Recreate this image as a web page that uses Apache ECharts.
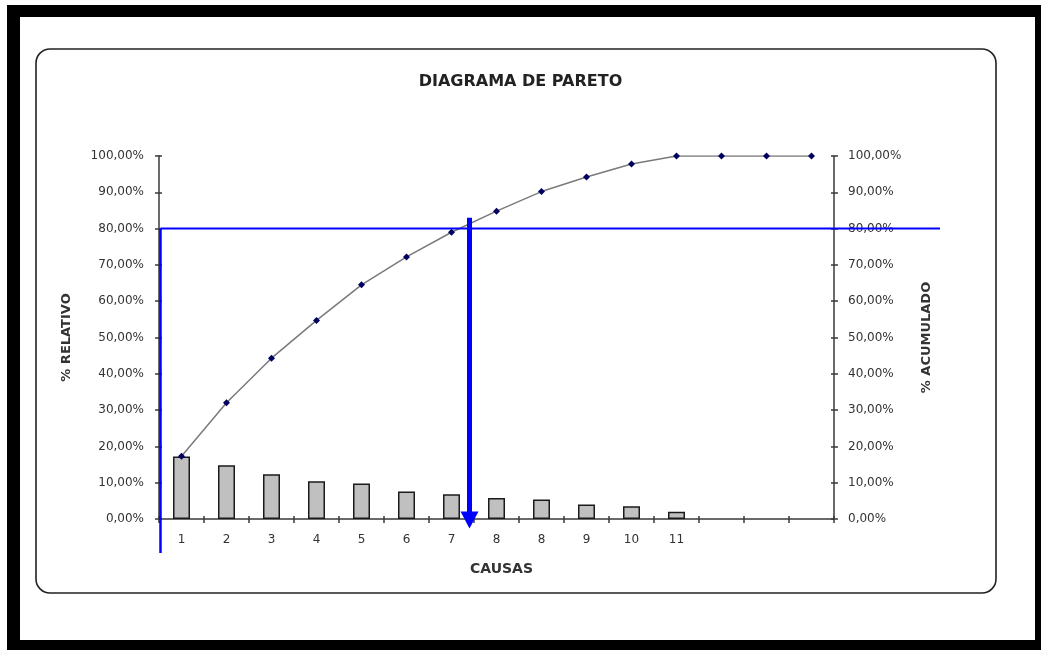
<!DOCTYPE html>
<html>
<head>
<meta charset="utf-8">
<script src="https://cdn.jsdelivr.net/npm/echarts@6/dist/echarts.min.js"></script>
<style>
  html, body { margin: 0; padding: 0; background: #ffffff; }
  #chart { width: 1041px; height: 650px; }
</style>
</head>
<body>
<div id="chart"></div>
<script>
// Causes along the x axis (the last three slots carry no label)
const causas = ['1', '2', '3', '4', '5', '6', '7', '8', '8', '9', '10', '11', '', '', ''];
// Relative share of each cause (%)
const relativo = [17.2, 14.8, 12.3, 10.4, 9.8, 7.6, 6.8, 5.8, 5.4, 4.0, 3.5, 2.0];
// Cumulative share (%)
const acumulado = [17.3, 32.0, 44.3, 54.7, 64.5, 72.2, 79.0, 84.8, 90.2, 94.2, 97.8, 100, 100, 100, 100];
// Percent axis ticks
const yMin = 0, yMax = 100, yStep = 10;
// 80/20 cut-off annotation
const limite = 80;          // horizontal cut-off level (%)
const corteCausa = 6.4;     // position of the cut-off arrow along the causes
const corteTope = 83;       // top of the cut-off arrow (%)

const GRID = { left: 159, right: 207, top: 156, bottom: 131 };
const FONT = "'DejaVu Sans', Verdana, sans-serif";
const AXIS_COLOR = '#3a3a3a';
const TEXT_COLOR = '#333333';
const BLUE = '#0000ff';

const pct = v => v.toFixed(2).replace('.', ',') + '%';

const chart = echarts.init(document.getElementById('chart'), null, { renderer: 'canvas' });

const tickStyle = { color: AXIS_COLOR, width: 1.5 };

const percentAxis = (position, name, labelMargin) => ({
  type: 'value',
  position: position,
  min: yMin, max: yMax, interval: yStep,
  name: name,
  nameLocation: 'middle',
  nameGap: 86,
  nameRotate: 90,
  nameTextStyle: { fontFamily: FONT, fontSize: 13, fontWeight: 'bold', color: TEXT_COLOR },
  axisLine: { show: true, lineStyle: { color: AXIS_COLOR, width: 1.5 } },
  axisTick: { show: true, inside: false, length: 4, lineStyle: tickStyle },
  axisLabel: { formatter: pct, fontFamily: FONT, fontSize: 12, color: TEXT_COLOR, margin: labelMargin },
  splitLine: { show: false }
});

// Companion axis that only draws the inner half of each tick, so ticks cross the axis line
const innerTicks = position => ({
  type: 'value',
  position: position,
  min: yMin, max: yMax, interval: yStep,
  axisLine: { show: false },
  axisTick: { show: true, inside: true, length: 3, lineStyle: tickStyle },
  axisLabel: { show: false },
  splitLine: { show: false }
});

chart.setOption({
  animation: false,
  backgroundColor: '#ffffff',
  title: {
    text: 'DIAGRAMA DE PARETO',
    left: 'center',
    top: 69,
    textStyle: { fontFamily: FONT, fontSize: 16, fontWeight: 'bold', color: '#222222' }
  },
  grid: GRID,
  xAxis: [
    {
      type: 'category',
      data: causas,
      boundaryGap: true,
      name: 'CAUSAS',
      nameLocation: 'middle',
      nameGap: 43,
      nameTextStyle: { fontFamily: FONT, fontSize: 14, fontWeight: 'bold', color: TEXT_COLOR, padding: [0, 0, 0, 10] },
      axisLine: { show: true, lineStyle: { color: AXIS_COLOR, width: 1.5 } },
      axisTick: { show: true, inside: false, length: 4, lineStyle: tickStyle },
      axisLabel: { interval: 0, fontFamily: FONT, fontSize: 12, color: TEXT_COLOR, margin: 15 },
      splitLine: { show: false }
    },
    {
      type: 'category',
      data: causas,
      boundaryGap: true,
      position: 'bottom',
      axisLine: { show: false },
      axisTick: { show: true, inside: true, length: 3, lineStyle: tickStyle },
      axisLabel: { show: false },
      splitLine: { show: false }
    }
  ],
  yAxis: [
    percentAxis('left', '% RELATIVO', 15),
    percentAxis('right', '% ACUMULADO', 14),
    innerTicks('left'),
    innerTicks('right')
  ],
  series: [
    {
      name: '% RELATIVO',
      type: 'bar',
      yAxisIndex: 0,
      data: relativo,
      barWidth: 17,
      itemStyle: { color: '#c0c0c0', borderColor: '#1a1a1a', borderWidth: 1.5 },
      z: 2
    },
    {
      name: '% ACUMULADO',
      type: 'line',
      yAxisIndex: 1,
      data: acumulado,
      symbol: 'diamond',
      symbolSize: 7,
      lineStyle: { color: '#7a7a7a', width: 1.5 },
      itemStyle: { color: '#000060' },
      z: 3
    }
  ]
});

// Annotations placed through the chart's own coordinate conversion
const yLim = chart.convertToPixel({ yAxisIndex: 0 }, limite);
const yZero = chart.convertToPixel({ yAxisIndex: 0 }, 0);
const yTop = chart.convertToPixel({ yAxisIndex: 0 }, corteTope);
const i0 = Math.floor(corteCausa);
const xa0 = chart.convertToPixel({ xAxisIndex: 0 }, i0);
const xa1 = chart.convertToPixel({ xAxisIndex: 0 }, i0 + 1);
const xArrow = xa0 + (corteCausa - i0) * (xa1 - xa0);
const W = 1041, H = 650;
const xLeft = GRID.left + 1.5;
const xRightEnd = W - GRID.right + 106;

chart.setOption({
  graphic: [
    // outer black frame
    { type: 'rect', shape: { x: 7, y: 5, width: W - 7, height: 12 }, style: { fill: '#000' }, z: 200 },
    { type: 'rect', shape: { x: 7, y: 5, width: 13, height: H - 5 }, style: { fill: '#000' }, z: 200 },
    { type: 'rect', shape: { x: W - 6, y: 5, width: 6, height: H - 5 }, style: { fill: '#000' }, z: 200 },
    { type: 'rect', shape: { x: 7, y: H - 10, width: W - 7, height: 10 }, style: { fill: '#000' }, z: 200 },
    // rounded chart-area border
    { type: 'rect', shape: { x: 36, y: 49, width: 960, height: 544, r: 14 },
      style: { fill: 'none', stroke: '#222', lineWidth: 1.6 }, z: -1 },
    // cut-off level line
    { type: 'line', shape: { x1: xLeft, y1: yLim, x2: xRightEnd, y2: yLim },
      style: { stroke: BLUE, lineWidth: 2 }, z: 100 },
    { type: 'line', shape: { x1: xLeft, y1: yLim, x2: xLeft, y2: yZero + 34 },
      style: { stroke: BLUE, lineWidth: 2.5 }, z: 100 },
    // cut-off arrow
    { type: 'line', shape: { x1: xArrow, y1: yTop, x2: xArrow, y2: yZero - 6 },
      style: { stroke: BLUE, lineWidth: 5 }, z: 100 },
    { type: 'polygon', shape: { points: [[xArrow - 9, yZero - 7.5], [xArrow + 9, yZero - 7.5], [xArrow, yZero + 9.5]] },
      style: { fill: BLUE }, z: 100 }
  ]
});
</script>
</body>
</html>
